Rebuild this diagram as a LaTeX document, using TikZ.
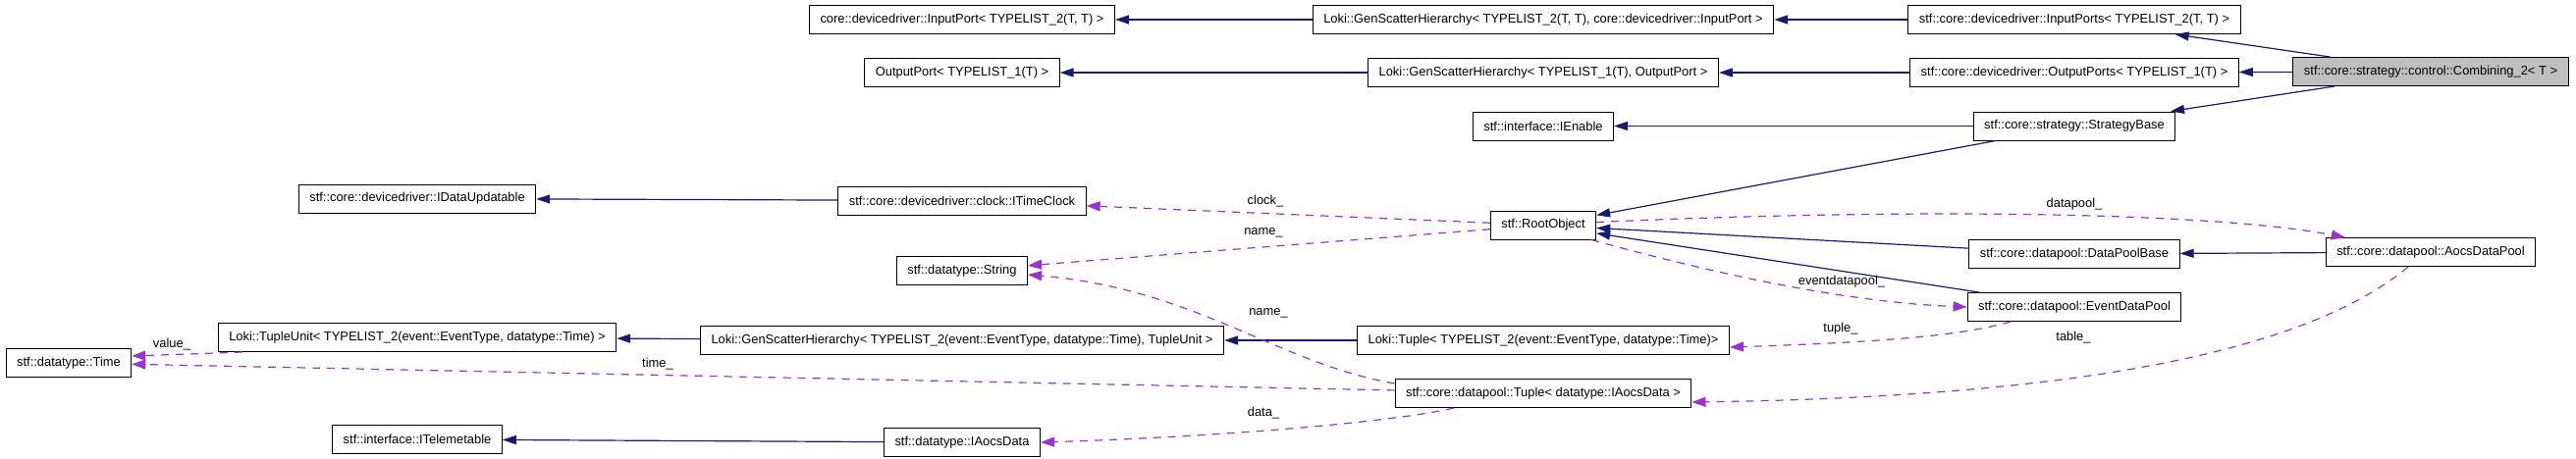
\documentclass[tikz,border=0pt]{standalone}
\usepackage{fontspec}
\setmainfont{Liberation Sans}
\usetikzlibrary{arrows.meta, positioning}
\definecolor{inheritblue}{RGB}{25,25,112}
\definecolor{usepurple}{RGB}{154,50,205}
\definecolor{classgray}{RGB}{191,191,191}

\begin{document}
\begin{tikzpicture}[
  x=1pt, y=-1pt,
  node distance=24pt,
  box/.style={draw, line width=1pt, fill=white, font=\fontsize{12.9}{14}\selectfont, inner xsep=11pt, inner ysep=0pt, minimum height=29pt, text centered},
  mainbox/.style={box, fill=classgray},
  lbl/.style={font=\fontsize{12.9}{14}\selectfont, inner sep=1pt},
  inherit/.style={-{Triangle[length=14pt,width=9pt]}, inheritblue, line width=1.2pt},
  uses/.style={-{Triangle[length=14pt,width=10pt]}, usepurple, line width=1.2pt, dash pattern=on 8pt off 7pt},
]
\useasboundingbox (0,0) rectangle (2624,467);

\node[box] (InputPort) at (980,20) {core::devicedriver::InputPort< TYPELIST\_2(T, T) >};
\node[box, below=24pt of InputPort] (OutputPort) {OutputPort< TYPELIST\_1(T) >};
\node[box, below=100.5pt of OutputPort] (ITimeClock) {stf::core::devicedriver::clock::ITimeClock};
\node[box, below=41.5pt of ITimeClock] (String) {stf::datatype::String};
\node[box, below=41pt of String] (GenScatterTuple) {Loki::GenScatterHierarchy< TYPELIST\_2(event::EventType, datatype::Time), TupleUnit >};
\node[box, below=74pt of GenScatterTuple] (IAocsData) {stf::datatype::IAocsData};

\node[box] (GenScatterIn) at (1572,20) {Loki::GenScatterHierarchy< TYPELIST\_2(T, T), core::devicedriver::InputPort >};
\node[box, below=24pt of GenScatterIn] (GenScatterOut) {Loki::GenScatterHierarchy< TYPELIST\_1(T), OutputPort >};
\node[box, below=24.5pt of GenScatterOut] (IEnable) {stf::interface::IEnable};
\node[box, below=71pt of IEnable] (RootObject) {stf::RootObject};
\node[box, below=87.5pt of RootObject] (LokiTuple) {Loki::Tuple< TYPELIST\_2(event::EventType, datatype::Time)>};
\node[box, below=24pt of LokiTuple] (TupleAocs) {stf::core::datapool::Tuple< datatype::IAocsData >};

\node[box] (InputPorts) at (2113,20) {stf::core::devicedriver::InputPorts< TYPELIST\_2(T, T) >};
\node[box, below=24pt of InputPorts] (OutputPorts) {stf::core::devicedriver::OutputPorts< TYPELIST\_1(T) >};
\node[box, below=24.5pt of OutputPorts] (StrategyBase) {stf::core::strategy::StrategyBase};
\node[box, below=100.5pt of StrategyBase] (DataPoolBase) {stf::core::datapool::DataPoolBase};
\node[box, below=24pt of DataPoolBase] (EventDataPool) {stf::core::datapool::EventDataPool};

\node[mainbox] (Combining) at (2476,73) {stf::core::strategy::control::Combining\_2< T >};
\node[box, below=154pt of Combining] (AocsDataPool) {stf::core::datapool::AocsDataPool};

\node[box] (IDataUpdatable) at (425,202.5) {stf::core::devicedriver::IDataUpdatable};
\node[box, below=111.5pt of IDataUpdatable] (TupleUnit) {Loki::TupleUnit< TYPELIST\_2(event::EventType, datatype::Time) >};
\node[box, below=74pt of TupleUnit] (ITelemetable) {stf::interface::ITelemetable};

\node[box] (Time) at (70,370) {stf::datatype::Time};

% inheritance
\foreach \from/\to in {GenScatterIn/InputPort, InputPorts/GenScatterIn, Combining/InputPorts,
  GenScatterOut/OutputPort, OutputPorts/GenScatterOut, Combining/OutputPorts, Combining/StrategyBase,
  StrategyBase/IEnable, StrategyBase/RootObject, ITimeClock/IDataUpdatable, DataPoolBase/RootObject,
  EventDataPool/RootObject, AocsDataPool/DataPoolBase, GenScatterTuple/TupleUnit,
  LokiTuple/GenScatterTuple, IAocsData/ITelemetable}{
  \draw[inherit] (\from) -- (\to);
}

% members
\draw[uses] (RootObject) -- (ITimeClock);
\draw[uses] (RootObject) -- (String);
\draw[uses] ([yshift=3pt]RootObject.east) .. controls (1950,212) and (2250,216) .. ([xshift=20pt]AocsDataPool.north west);
\draw[uses] ([xshift=-5pt]RootObject.south east) .. controls (1750,280) and (1880,308) .. (EventDataPool.west);
\draw[uses] ([xshift=-65pt]EventDataPool.south) .. controls (1990,345) and (1880,350) .. ([yshift=-7pt]LokiTuple.east);
\draw[uses] ([xshift=-23pt]AocsDataPool.south) .. controls (2360,350) and (2150,404) .. ([yshift=-9pt]TupleAocs.east);
\draw[uses] ([yshift=-5pt]TupleAocs.north west) .. controls (1300,370) and (1220,295) .. ([yshift=-4pt]String.east);
\draw[uses] (TupleAocs) -- (Time);
\draw[uses] ([xshift=25pt]TupleUnit.south west) -- ([yshift=7pt]Time.east);
\draw[uses] ([xshift=-91pt]TupleAocs.south) .. controls (1420,430) and (1250,445) .. (IAocsData.east);

\node[lbl] (clockLbl) at (1289,205) {clock\_};
\node[lbl] (nameLbl) at (1287,237) {name\_};
\node[lbl] (datapoolLbl) at (2113,208) {datapool\_};
\node[lbl] (eventLbl) at (1876,287) {eventdatapool\_};
\node[lbl] (tupleLbl) at (1875,335) {tuple\_};
\node[lbl] (tableLbl) at (2112,344) {table\_};
\node[lbl] (nameTupleLbl) at (1292,319) {name\_};
\node[lbl] (timeLbl) at (670,371) {time\_};
\node[lbl] (valueLbl) at (175,351) {value\_};
\node[lbl] (dataLbl) at (1287,421) {data\_};
\end{tikzpicture}
\end{document}
